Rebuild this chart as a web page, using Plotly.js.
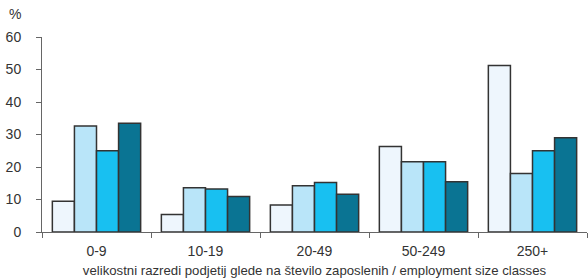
<!DOCTYPE html>
<html>
<head>
<meta charset="utf-8">
<script src="https://cdn.plot.ly/plotly-3.0.1.min.js"></script>
<style>html,body{margin:0;padding:0;background:#fff;}#chart{width:588px;height:280px;}</style>
</head>
<body>
<div id="chart"></div>
<script>
const categories = ["0-9", "10-19", "20-49", "50-249", "250+"];
const series1 = [9.5, 5.4, 8.3, 26.3, 51.2];
const series2 = [32.6, 13.6, 14.2, 21.6, 18.0];
const series3 = [25.0, 13.2, 15.2, 21.6, 25.0];
const series4 = [33.5, 10.9, 11.6, 15.5, 29.0];
const colors = ["#EEF6FD", "#B9E5F9", "#18C0F1", "#0A7493"];

const allSeries = [series1, series2, series3, series4];
const traces = allSeries.map((s, i) => ({
  type: "bar",
  x: categories,
  y: s,
  marker: {color: colors[i], line: {color: "#333333", width: 1.5}},
  hoverinfo: "none"
}));

const fam = "Liberation Sans, Arial, sans-serif";
const layout = {
  width: 588, height: 280,
  margin: {l: 42, r: 1, t: 37, b: 48},
  paper_bgcolor: "#fff", plot_bgcolor: "#fff",
  showlegend: false,
  barmode: "group",
  bargap: 0.19,
  bargroupgap: 0,
  font: {family: fam, size: 14, color: "#333"},
  xaxis: {
    type: "category",
    showline: true, linecolor: "#666", linewidth: 1,
    ticks: "outside", tickson: "boundaries", ticklen: 5, tickcolor: "#666",
    showgrid: false,
    ticklabelstandoff: 6,
    tickfont: {family: fam, size: 14, color: "#333"},
    title: {text: "velikostni razredi podjetij glede na število zaposlenih / employment size classes",
            font: {family: fam, size: 13.2, color: "#333"}, standoff: 7}
  },
  yaxis: {
    range: [0, 60], dtick: 10,
    showline: true, linecolor: "#666", linewidth: 1,
    ticks: "outside", ticklen: 5, tickcolor: "#666",
    ticklabelstandoff: 12,
    showgrid: false, zeroline: false,
    tickfont: {family: fam, size: 14, color: "#333"}
  },
  annotations: [{
    text: "%", xref: "paper", yref: "paper", x: 0, y: 1,
    xshift: -35, yshift: 23, showarrow: false, xanchor: "left", yanchor: "middle",
    font: {family: fam, size: 14, color: "#333"}
  }]
};
Plotly.newPlot("chart", traces, layout, {displayModeBar: false, staticPlot: true});
</script>
</body>
</html>
